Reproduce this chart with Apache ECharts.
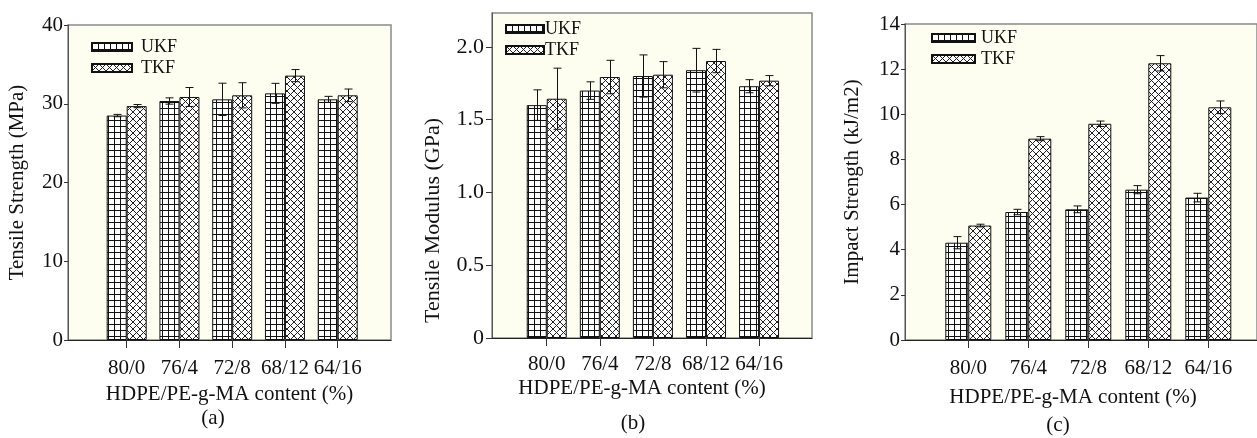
<!DOCTYPE html>
<html>
<head>
<meta charset="utf-8">
<script src="https://cdn.jsdelivr.net/npm/echarts@6/dist/echarts.min.js"></script>
<style>
html,body{margin:0;padding:0;background:#fff;}
#chart{width:1257px;height:438px;}
</style>
</head>
<body>
<div id="chart"></div>
<script>
// ---- data ----
const categories = ['80/0', '76/4', '72/8', '68/12', '64/16'];
const seriesNames = ['UKF', 'TKF'];

const tensileStrengthUKF = [28.5, 30.35, 30.56, 31.32, 30.56];
const tensileStrengthUKFErr = [0.15, 0.4, 2.05, 1.27, 0.38];
const tensileStrengthTKF = [29.7, 30.86, 31.07, 33.57, 31.07];
const tensileStrengthTKFErr = [0.2, 1.2, 1.6, 0.77, 0.8];

const tensileModulusUKF = [1.60, 1.70, 1.80, 1.84, 1.73];
const tensileModulusUKFErr = [0.105, 0.06, 0.145, 0.15, 0.045];
const tensileModulusTKF = [1.644, 1.793, 1.809, 1.903, 1.768];
const tensileModulusTKFErr = [0.21, 0.115, 0.09, 0.08, 0.035];

const impactUKF = [4.31, 5.67, 5.79, 6.66, 6.31];
const impactUKFErr = [0.27, 0.12, 0.15, 0.18, 0.19];
const impactTKF = [5.07, 8.92, 9.58, 12.26, 10.31];
const impactTKFErr = [0.06, 0.09, 0.12, 0.34, 0.28];

const ticksA = [0, 10, 20, 30, 40];
const ticksB = [0, 0.5, 1.0, 1.5, 2.0];
const ticksC = [0, 2, 4, 6, 8, 10, 12, 14];

const yNameA = 'Tensile Strength (MPa)';
const yNameB = 'Tensile Modulus (GPa)';
const yNameC = 'Impact Strength (kJ/m2)';
const xName = 'HDPE/PE-g-MA content (%)';
const panelLabels = ['(a)', '(b)', '(c)'];

// ---- patterns ----
function gridPattern() {
  const c = document.createElement('canvas');
  c.width = 6; c.height = 6;
  const g = c.getContext('2d');
  g.fillStyle = '#ffffff'; g.fillRect(0, 0, 6, 6);
  g.fillStyle = '#111111';
  g.fillRect(0, 0, 6, 1);
  g.fillRect(0, 0, 1, 6);
  return c;
}
function crossPattern() {
  const s = 7;
  const c = document.createElement('canvas');
  c.width = s; c.height = s;
  const g = c.getContext('2d');
  g.fillStyle = '#ffffff'; g.fillRect(0, 0, s, s);
  g.strokeStyle = '#222222'; g.lineWidth = 1;
  g.beginPath();
  g.moveTo(-1, -1); g.lineTo(s + 1, s + 1);
  g.moveTo(s + 1, -1); g.lineTo(-1, s + 1);
  g.stroke();
  return c;
}
const ukfFill = { image: gridPattern(), repeat: 'repeat' };
const tkfFill = { image: crossPattern(), repeat: 'repeat' };

const FONT = 'Liberation Serif';
const TXT = '#111';

const panels = [
  {
    frame: { left: 68, top: 25, width: 323, height: 315 },
    bars: { left: 100.3, top: 25, width: 263.8, height: 315 },
    min: 0, max: 40, interval: 10, ticks: ticksA,
    fmt: v => String(v),
    yName: yNameA, yNameGap: 40, yNameSize: 21, yNamePad: [0, 0, 0, 0],
    yLabelMargin: 5, yTickLen: 4, yLabelSize: 21,
    xNameGap: 44, xNamePad: [0, 0, 0, 0], xLabelMargin: 18,
    barWidth: 20,
    ukf: tensileStrengthUKF, ukfErr: tensileStrengthUKFErr,
    tkf: tensileStrengthTKF, tkfErr: tensileStrengthTKFErr,
    legend: { left: 86, top: 33, itemWidth: 40, textPad: [0, 0, 0, 4] },
    label: { x: 213, y: 418 }
  },
  {
    frame: { left: 492, top: 13, width: 320, height: 325 },
    bars: { left: 520.2, top: 13, width: 265.4, height: 325 },
    min: 0, max: 2.233, interval: 0.5, ticks: ticksB,
    fmt: v => (v === 0 ? '0' : v.toFixed(1)),
    yName: yNameB, yNameGap: 48, yNameSize: 22, yNamePad: [0, 90, 0, 0],
    yLabelMargin: 8, yTickLen: 6, yLabelSize: 22,
    xNameGap: 40, xNamePad: [0, 20, 0, 0], xLabelMargin: 16,
    barWidth: 20,
    ukf: tensileModulusUKF, ukfErr: tensileModulusUKFErr,
    tkf: tensileModulusTKF, tkfErr: tensileModulusTKFErr,
    legend: { left: 500, top: 15, itemWidth: 38, textPad: [0, 0, 0, -4] },
    label: { x: 633, y: 423 }
  },
  {
    frame: { left: 905, top: 24, width: 360, height: 316 },
    bars: { left: 938.3, top: 24, width: 300, height: 316 },
    min: 0, max: 14, interval: 2, ticks: ticksC,
    fmt: v => String(v),
    yName: yNameC, yNameGap: 42, yNameSize: 21, yNamePad: [0, 0, 0, 0],
    yLabelMargin: 5, yTickLen: 4, yLabelSize: 21,
    xNameGap: 47, xNamePad: [0, 16, 0, 0], xLabelMargin: 18,
    barWidth: 23,
    ukf: impactUKF, ukfErr: impactUKFErr,
    tkf: impactTKF, tkfErr: impactTKFErr,
    legend: { left: 926, top: 24, itemWidth: 43, textPad: [0, 0, 0, 1] },
    label: { x: 1058, y: 425 }
  }
];

function errRender(offset) {
  return function (params, api) {
    const i = api.value(0), v = api.value(1), e = api.value(2);
    const top = api.coord([i, v + e]);
    const bot = api.coord([i, v - e]);
    const x = Math.round(top[0] + offset) + 0.5;
    const h = 4;
    const st = { stroke: '#111', lineWidth: 1 };
    return {
      type: 'group',
      children: [
        { type: 'line', shape: { x1: x, y1: top[1], x2: x, y2: bot[1] }, style: st },
        { type: 'line', shape: { x1: x - h, y1: top[1], x2: x + h, y2: top[1] }, style: st },
        { type: 'line', shape: { x1: x - h, y1: bot[1], x2: x + h, y2: bot[1] }, style: st }
      ]
    };
  };
}

const grid = [], xAxis = [], yAxis = [], series = [], legend = [], graphic = [];

panels.forEach((p, k) => {
  const fi = k * 2, bi = k * 2 + 1;
  grid.push(Object.assign({ show: true, backgroundColor: '#fefef0', borderColor: '#8a8a8a', borderWidth: 1.5 }, p.frame));
  grid.push(Object.assign({ show: false }, p.bars));

  xAxis.push({
    type: 'category', gridIndex: fi, data: categories,
    axisLine: { show: true, lineStyle: { color: '#222', width: 1 } },
    axisTick: { show: false }, axisLabel: { show: false },
    name: xName, nameLocation: 'middle', nameGap: p.xNameGap,
    nameTextStyle: { fontFamily: FONT, fontSize: 21, color: TXT, padding: p.xNamePad }
  });
  xAxis.push({
    type: 'category', gridIndex: bi, data: categories, boundaryGap: true,
    axisLine: { show: false },
    axisTick: { show: true, alignWithLabel: true, interval: 0, length: 8, lineStyle: { color: '#333' } },
    axisLabel: { fontFamily: FONT, fontSize: 21, color: TXT, margin: p.xLabelMargin, interval: 0, hideOverlap: false }
  });

  yAxis.push({
    type: 'value', gridIndex: fi, min: p.min, max: p.max, interval: p.interval,
    axisLine: { show: true, lineStyle: { color: '#555', width: 1 } },
    axisTick: { show: true, length: p.yTickLen, customValues: p.ticks, lineStyle: { color: '#333' } },
    axisLabel: { fontFamily: FONT, fontSize: p.yLabelSize, color: TXT, margin: p.yLabelMargin, customValues: p.ticks, formatter: p.fmt },
    splitLine: { show: false },
    name: p.yName, nameLocation: 'middle', nameGap: p.yNameGap,
    nameTextStyle: { fontFamily: FONT, fontSize: p.yNameSize, color: TXT, padding: p.yNamePad }
  });
  yAxis.push({
    type: 'value', gridIndex: bi, min: p.min, max: p.max, interval: p.interval, show: false,
    splitLine: { show: false }
  });

  series.push({
    name: 'UKF', type: 'bar', xAxisIndex: bi, yAxisIndex: bi,
    barWidth: p.barWidth, barGap: '0%', data: p.ukf,
    itemStyle: { color: ukfFill, borderColor: '#111', borderWidth: 1 },
    emphasis: { disabled: true }, z: 2
  });
  series.push({
    name: 'TKF', type: 'bar', xAxisIndex: bi, yAxisIndex: bi,
    barWidth: p.barWidth, barGap: '0%', data: p.tkf,
    itemStyle: { color: tkfFill, borderColor: '#111', borderWidth: 1 },
    emphasis: { disabled: true }, z: 2
  });
  series.push({
    name: 'UKF err', type: 'custom', xAxisIndex: bi, yAxisIndex: bi,
    renderItem: errRender(-p.barWidth / 2), encode: { x: 0, y: 1 },
    data: p.ukf.map((v, i) => [i, v, p.ukfErr[i]]), z: 5, silent: true
  });
  series.push({
    name: 'TKF err', type: 'custom', xAxisIndex: bi, yAxisIndex: bi,
    renderItem: errRender(p.barWidth / 2), encode: { x: 0, y: 1 },
    data: p.tkf.map((v, i) => [i, v, p.tkfErr[i]]), z: 5, silent: true
  });

  legend.push({
    data: seriesNames, orient: 'vertical', left: p.legend.left, top: p.legend.top,
    itemWidth: p.legend.itemWidth, itemHeight: 8, itemGap: 3, icon: 'rect',
    selectedMode: false,
    textStyle: { fontFamily: FONT, fontSize: 18, color: TXT, lineHeight: 18, padding: p.legend.textPad }
  });

  graphic.push({
    type: 'text', x: p.label.x, y: p.label.y,
    style: { text: panelLabels[k], font: '21px "Liberation Serif"', fill: TXT, align: 'center', verticalAlign: 'middle' }
  });
});

const chart = echarts.init(document.getElementById('chart'), null, { renderer: 'canvas' });
chart.setOption({
  animation: false,
  backgroundColor: '#ffffff',
  grid, xAxis, yAxis, series, legend, graphic
});
</script>
</body>
</html>
